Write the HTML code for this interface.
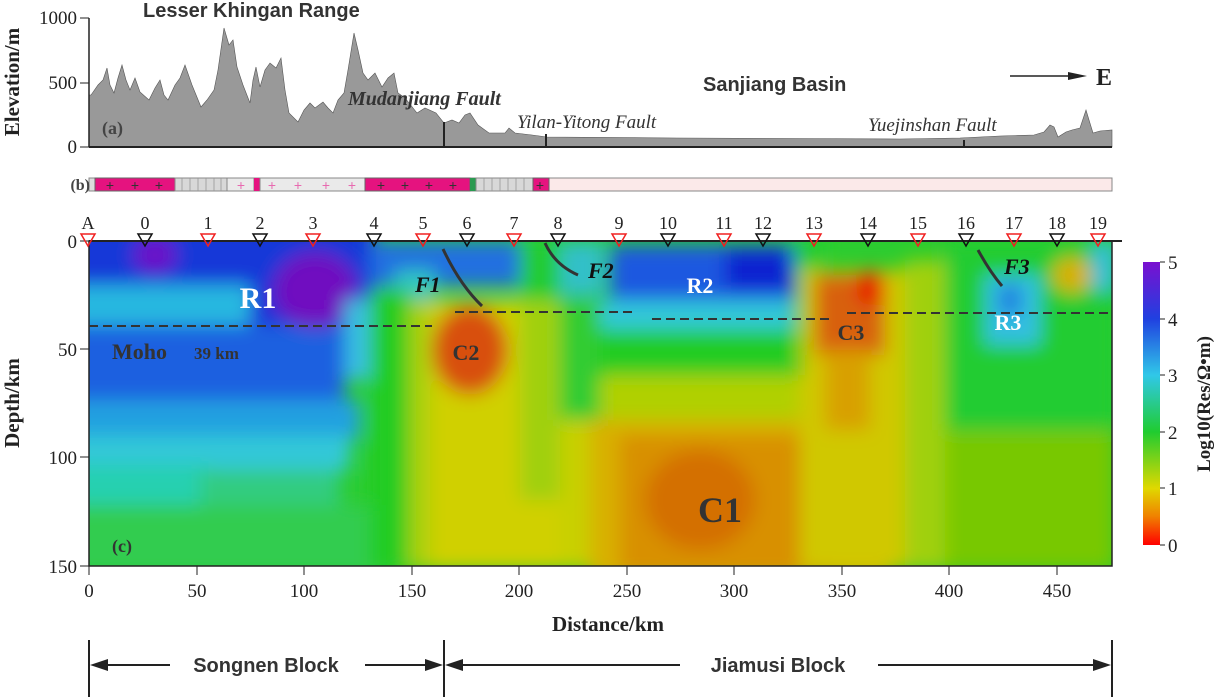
<!DOCTYPE html>
<html><head><meta charset="utf-8"><style>
html,body{margin:0;padding:0;background:#fff;}
svg{display:block;}
</style></head><body>
<svg width="1219" height="697" viewBox="0 0 1219 697" xmlns="http://www.w3.org/2000/svg" font-family="Liberation Serif, serif">
<defs>
<filter id="bl" x="-20%" y="-20%" width="140%" height="140%"><feGaussianBlur stdDeviation="9"/></filter>
<clipPath id="cp"><rect x="89" y="241" width="1023" height="325"/></clipPath>
<linearGradient id="cb" x1="0" y1="0" x2="0" y2="1">
<stop offset="0" stop-color="#7a10d0"/><stop offset="0.2" stop-color="#2040e0"/><stop offset="0.4" stop-color="#30c8e8"/><stop offset="0.6" stop-color="#20cc30"/><stop offset="0.8" stop-color="#e0d800"/><stop offset="0.9" stop-color="#f08000"/><stop offset="1" stop-color="#ff0000"/></linearGradient>
</defs>
<!-- elevation -->
<polygon fill="#999" stroke="#555" stroke-width="0.6" points="89,147 89,95 91,95 98,85 103,80 107,68 110,85 114,93 118,78 122,65 126,80 130,90 135,78 140,92 149,100 155,88 160,80 164,95 168,100 175,85 180,78 185,65 192,85 201,107 207,100 214,90 218,70 224,28 229,45 233,40 237,67 243,85 250,103 253,80 256,67 260,87 265,70 270,63 276,68 281,58 285,90 289,113 298,122 304,110 310,103 315,108 323,102 328,108 333,113 338,100 344,93 348,70 354,33 358,50 363,73 368,80 375,73 382,87 388,78 394,73 398,93 405,98 417,113 425,108 436,113 444,123 452,120 459,123 465,115 470,113 478,125 489,133 505,133 509,128 515,133 532,135 547,137 677,138 900,139 960,138 1000,136 1034,135 1044,132 1050,125 1054,127 1058,137 1066,132 1072,130 1080,128 1086,110 1089,120 1093,133 1100,131 1112,130 1112,147"/>
<line x1="89" y1="147" x2="1112" y2="147" stroke="#222" stroke-width="2"/>
<line x1="89" y1="18" x2="89" y2="147" stroke="#222" stroke-width="1.5"/>
<line x1="80" y1="18" x2="89" y2="18" stroke="#222"/><line x1="80" y1="83" x2="89" y2="83" stroke="#222"/><line x1="80" y1="147" x2="89" y2="147" stroke="#222"/>
<line x1="444" y1="122" x2="444" y2="147" stroke="#222" stroke-width="2"/>
<line x1="546" y1="134" x2="546" y2="147" stroke="#222" stroke-width="2"/>
<line x1="964" y1="140" x2="964" y2="147" stroke="#222" stroke-width="2"/>
<g font-size="19" fill="#222" text-anchor="end"><text x="77" y="24">1000</text><text x="77" y="89">500</text><text x="77" y="153">0</text></g>
<text transform="translate(19,82) rotate(-90)" text-anchor="middle" font-size="21" font-weight="bold" fill="#222">Elevation/m</text>
<text x="143" y="17" font-family="Liberation Sans, sans-serif" font-weight="bold" font-size="20" fill="#333">Lesser Khingan Range</text>
<text x="703" y="91" font-family="Liberation Sans, sans-serif" font-weight="bold" font-size="20" fill="#333">Sanjiang Basin</text>
<text x="348" y="105" font-weight="bold" font-style="italic" font-size="20" fill="#333">Mudanjiang Fault</text>
<text x="517" y="128" font-style="italic" font-size="19" fill="#333">Yilan-Yitong Fault</text>
<text x="868" y="131" font-style="italic" font-size="19" fill="#333">Yuejinshan Fault</text>
<line x1="1010" y1="76" x2="1075" y2="76" stroke="#222" stroke-width="1.5"/><polygon points="1068,72 1087,76 1068,80" fill="#222"/>
<text x="1096" y="85" font-weight="bold" font-size="24" fill="#222">E</text>
<text x="102" y="134" font-weight="bold" font-size="18" fill="#444">(a)</text>
<!-- strip b -->
<rect x="89" y="178" width="1023" height="13" fill="#fbe9e9" stroke="#888"/>
<rect x="89" y="178" width="6" height="13" fill="#ddd" stroke="#888"/>
<rect x="95" y="178" width="80" height="13" fill="#e5137f" stroke="#666"/>
<rect x="175" y="178" width="52" height="13" fill="#d8d8d8" stroke="#888"/>
<rect x="227" y="178" width="27" height="13" fill="#eaeaea" stroke="#888"/>
<rect x="254" y="178" width="6" height="13" fill="#e5137f"/>
<rect x="260" y="178" width="105" height="13" fill="#eaeaea" stroke="#888"/>
<rect x="365" y="178" width="105" height="13" fill="#e5137f" stroke="#666"/>
<rect x="470" y="178" width="6" height="13" fill="#2a9a50"/>
<rect x="476" y="178" width="57" height="13" fill="#d8d8d8" stroke="#888"/>
<rect x="533" y="178" width="16" height="13" fill="#e5137f" stroke="#666"/>
<g stroke="#999" stroke-width="0.8">
<line x1="182" y1="178" x2="182" y2="191"/><line x1="190" y1="178" x2="190" y2="191"/><line x1="198" y1="178" x2="198" y2="191"/><line x1="206" y1="178" x2="206" y2="191"/><line x1="214" y1="178" x2="214" y2="191"/><line x1="221" y1="178" x2="221" y2="191"/>
<line x1="484" y1="178" x2="484" y2="191"/><line x1="492" y1="178" x2="492" y2="191"/><line x1="500" y1="178" x2="500" y2="191"/><line x1="508" y1="178" x2="508" y2="191"/><line x1="516" y1="178" x2="516" y2="191"/><line x1="524" y1="178" x2="524" y2="191"/></g>
<g font-family="Liberation Sans, sans-serif" font-size="14" text-anchor="middle"><g fill="#333"><text x="110" y="190">+</text><text x="135" y="190">+</text><text x="159" y="190">+</text><text x="381" y="190">+</text><text x="405" y="190">+</text><text x="429" y="190">+</text><text x="453" y="190">+</text><text x="540" y="190">+</text></g>
<g fill="#e86ab0"><text x="241" y="190">+</text><text x="272" y="190">+</text><text x="298" y="190">+</text><text x="326" y="190">+</text><text x="352" y="190">+</text></g></g>
<text x="90" y="190" font-weight="bold" font-size="16" fill="#444" text-anchor="end">(b)</text>
<!-- heatmap -->
<g clip-path="url(#cp)">
<rect x="89" y="241" width="1023" height="325" fill="#2ccc30"/>
<g filter="url(#bl)">
<!-- left -->
<rect x="60" y="210" width="315" height="80" fill="#1838d8"/>
<rect x="60" y="285" width="190" height="45" fill="#28b8e0"/>
<rect x="250" y="285" width="120" height="50" fill="#1a30d8"/>
<rect x="60" y="325" width="285" height="80" fill="#1e60e0"/>
<rect x="60" y="400" width="300" height="40" fill="#20a0e0"/>
<rect x="60" y="435" width="290" height="35" fill="#30c8d8"/>
<rect x="60" y="465" width="150" height="40" fill="#28d0b0"/>
<rect x="200" y="470" width="140" height="40" fill="#30cc80"/>
<rect x="60" y="505" width="320" height="70" fill="#30cc50"/>
<ellipse cx="155" cy="255" rx="22" ry="18" fill="#6a10c8"/>
<ellipse cx="315" cy="290" rx="42" ry="38" fill="#7010c0"/>
<rect x="345" y="300" width="25" height="80" fill="#38c0e0"/>
<!-- middle-left -->
<rect x="370" y="241" width="150" height="45" fill="#2070e0"/>
<rect x="395" y="270" width="40" height="30" fill="#30c8c0"/>
<rect x="370" y="290" width="40" height="280" fill="#20cc20"/>
<rect x="408" y="300" width="25" height="270" fill="#a8d010"/>
<rect x="430" y="300" width="130" height="270" fill="#d0d000"/>
<ellipse cx="470" cy="350" rx="38" ry="45" fill="#d85008"/>
<rect x="520" y="241" width="45" height="60" fill="#20cc30"/>
<rect x="520" y="300" width="40" height="200" fill="#a0d010"/>
<rect x="560" y="241" width="45" height="55" fill="#30c0c8"/>
<rect x="560" y="300" width="40" height="120" fill="#30cc30"/>
<rect x="560" y="420" width="45" height="150" fill="#c8d000"/>
<!-- R2 -->
<rect x="610" y="245" width="185" height="60" fill="#1a58e0"/>
<rect x="725" y="250" width="65" height="40" fill="#0a20d0"/>
<rect x="600" y="300" width="195" height="30" fill="#30c8d8"/>
<rect x="600" y="330" width="195" height="45" fill="#20cc20"/>
<rect x="600" y="375" width="200" height="50" fill="#b0d000"/>
<!-- C1 -->
<rect x="590" y="420" width="300" height="160" fill="#d8b000"/>
<rect x="620" y="435" width="210" height="140" fill="#d89000"/>
<ellipse cx="700" cy="500" rx="55" ry="50" fill="#d47000"/>
<!-- C3 -->
<rect x="795" y="241" width="25" height="30" fill="#20cc30"/>
<rect x="800" y="270" width="105" height="300" fill="#d0c800"/>
<rect x="815" y="275" width="70" height="80" fill="#d86010"/>
<ellipse cx="870" cy="288" rx="14" ry="18" fill="#e81000"/>
<rect x="825" y="350" width="45" height="80" fill="#d8a000"/>
<!-- right -->
<rect x="905" y="260" width="40" height="310" fill="#a0d010"/>
<rect x="945" y="241" width="170" height="190" fill="#20cc30"/>
<rect x="985" y="275" width="55" height="70" fill="#30c0e0"/>
<ellipse cx="1010" cy="300" rx="12" ry="18" fill="#2080e0"/>
<ellipse cx="1072" cy="275" rx="20" ry="18" fill="#d8b000"/>
<rect x="1092" y="241" width="25" height="50" fill="#30c0d8"/>
<rect x="945" y="430" width="170" height="140" fill="#78c800"/>
</g>
</g>
<!-- axes c -->
<rect x="89" y="241" width="1023" height="325" fill="none" stroke="#222" stroke-width="1.5"/>
<line x1="89" y1="241" x2="1122" y2="241" stroke="#222" stroke-width="2"/>
<g stroke="#222"><line x1="80" y1="241" x2="89" y2="241"/><line x1="80" y1="349" x2="89" y2="349"/><line x1="80" y1="457" x2="89" y2="457"/><line x1="80" y1="566" x2="89" y2="566"/>
<line x1="89" y1="566" x2="89" y2="575"/><line x1="197" y1="566" x2="197" y2="575"/><line x1="304" y1="566" x2="304" y2="575"/><line x1="412" y1="566" x2="412" y2="575"/><line x1="519" y1="566" x2="519" y2="575"/><line x1="627" y1="566" x2="627" y2="575"/><line x1="734" y1="566" x2="734" y2="575"/><line x1="842" y1="566" x2="842" y2="575"/><line x1="949" y1="566" x2="949" y2="575"/><line x1="1057" y1="566" x2="1057" y2="575"/></g>
<g font-size="19" fill="#222" text-anchor="end"><text x="77" y="248">0</text><text x="77" y="356">50</text><text x="77" y="464">100</text><text x="77" y="573">150</text></g>
<g font-size="19" fill="#222" text-anchor="middle"><text x="89" y="597">0</text><text x="197" y="597">50</text><text x="304" y="597">100</text><text x="412" y="597">150</text><text x="519" y="597">200</text><text x="627" y="597">250</text><text x="734" y="597">300</text><text x="842" y="597">350</text><text x="949" y="597">400</text><text x="1057" y="597">450</text></g>
<text x="608" y="631" text-anchor="middle" font-size="21" font-weight="bold" fill="#222">Distance/km</text>
<text transform="translate(19,403) rotate(-90)" text-anchor="middle" font-size="21" font-weight="bold" fill="#222">Depth/km</text>
<!-- stations -->
<g font-size="18" fill="#222" text-anchor="middle">
<text x="88" y="229">A</text><text x="145" y="229">0</text><text x="208" y="229">1</text><text x="260" y="229">2</text><text x="313" y="229">3</text><text x="374" y="229">4</text><text x="423" y="229">5</text><text x="467" y="229">6</text><text x="514" y="229">7</text><text x="558" y="229">8</text><text x="619" y="229">9</text><text x="668" y="229">10</text><text x="724" y="229">11</text><text x="763" y="229">12</text><text x="814" y="229">13</text><text x="868" y="229">14</text><text x="918" y="229">15</text><text x="966" y="229">16</text><text x="1014" y="229">17</text><text x="1057" y="229">18</text><text x="1098" y="229">19</text></g>
<g fill="none" stroke-width="1.5">
<g stroke="#f02020"><path d="M81,234h14l-7,12z"/><path d="M201,234h14l-7,12z"/><path d="M306,234h14l-7,12z"/><path d="M416,234h14l-7,12z"/><path d="M507,234h14l-7,12z"/><path d="M612,234h14l-7,12z"/><path d="M717,234h14l-7,12z"/><path d="M807,234h14l-7,12z"/><path d="M911,234h14l-7,12z"/><path d="M1007,234h14l-7,12z"/><path d="M1091,234h14l-7,12z"/></g>
<g stroke="#111"><path d="M138,234h14l-7,12z"/><path d="M253,234h14l-7,12z"/><path d="M367,234h14l-7,12z"/><path d="M460,234h14l-7,12z"/><path d="M551,234h14l-7,12z"/><path d="M661,234h14l-7,12z"/><path d="M756,234h14l-7,12z"/><path d="M861,234h14l-7,12z"/><path d="M959,234h14l-7,12z"/><path d="M1050,234h14l-7,12z"/></g></g>
<!-- moho & faults -->
<g stroke="#333" stroke-width="2" stroke-dasharray="9,5" fill="none"><line x1="89" y1="326" x2="432" y2="326"/><line x1="455" y1="312" x2="633" y2="312"/><line x1="652" y1="319" x2="832" y2="319"/><line x1="847" y1="313" x2="1112" y2="313"/></g>
<g stroke="#333" stroke-width="3" fill="none"><path d="M443,249 Q460,285 482,306"/><path d="M545,243 Q555,265 578,275"/><path d="M978,250 Q990,272 1002,286"/></g>
<g font-weight="bold">
<text x="258" y="308" text-anchor="middle" font-size="30" fill="#fff">R1</text>
<text x="112" y="359" font-size="22" fill="#333">Moho</text><text x="194" y="359" font-size="17" fill="#333">39 km</text>
<text x="466" y="360" text-anchor="middle" font-size="22" fill="#333">C2</text>
<text x="700" y="293" text-anchor="middle" font-size="22" fill="#fff">R2</text>
<text x="1008" y="330" text-anchor="middle" font-size="22" fill="#fff">R3</text>
<text x="851" y="340" text-anchor="middle" font-size="22" fill="#333">C3</text>
<text x="720" y="522" text-anchor="middle" font-size="36" fill="#333">C1</text>
<text x="112" y="552" font-size="18" fill="#333">(c)</text>
<g font-style="italic" font-size="22" fill="#111"><text x="415" y="292">F1</text><text x="588" y="278">F2</text><text x="1004" y="274">F3</text></g></g>
<!-- colorbar -->
<rect x="1143" y="262" width="17" height="283" fill="url(#cb)"/>
<g stroke="#222"><line x1="1160" y1="262" x2="1165" y2="262"/><line x1="1160" y1="319" x2="1165" y2="319"/><line x1="1160" y1="375" x2="1165" y2="375"/><line x1="1160" y1="432" x2="1165" y2="432"/><line x1="1160" y1="488" x2="1165" y2="488"/><line x1="1160" y1="545" x2="1165" y2="545"/></g>
<g font-size="19" fill="#222"><text x="1168" y="269">5</text><text x="1168" y="326">4</text><text x="1168" y="382">3</text><text x="1168" y="439">2</text><text x="1168" y="495">1</text><text x="1168" y="552">0</text></g>
<text transform="translate(1210,404) rotate(-90)" text-anchor="middle" font-size="19" font-weight="bold" fill="#222">Log10(Res/Ω•m)</text>
<!-- blocks -->
<g stroke="#222" stroke-width="2"><line x1="89" y1="640" x2="89" y2="697"/><line x1="444" y1="640" x2="444" y2="697"/><line x1="1112" y1="640" x2="1112" y2="697"/>
<line x1="95" y1="665" x2="170" y2="665"/><line x1="365" y1="665" x2="438" y2="665"/><line x1="450" y1="665" x2="680" y2="665"/><line x1="878" y1="665" x2="1106" y2="665"/></g>
<g fill="#222"><polygon points="90,665 108,659 108,671"/><polygon points="443,665 425,659 425,671"/><polygon points="445,665 463,659 463,671"/><polygon points="1111,665 1093,659 1093,671"/></g>
<g font-family="Liberation Sans, sans-serif" font-weight="bold" font-size="20" fill="#333" text-anchor="middle"><text x="266" y="672">Songnen Block</text><text x="778" y="672">Jiamusi Block</text></g>
</svg>
</body></html>
